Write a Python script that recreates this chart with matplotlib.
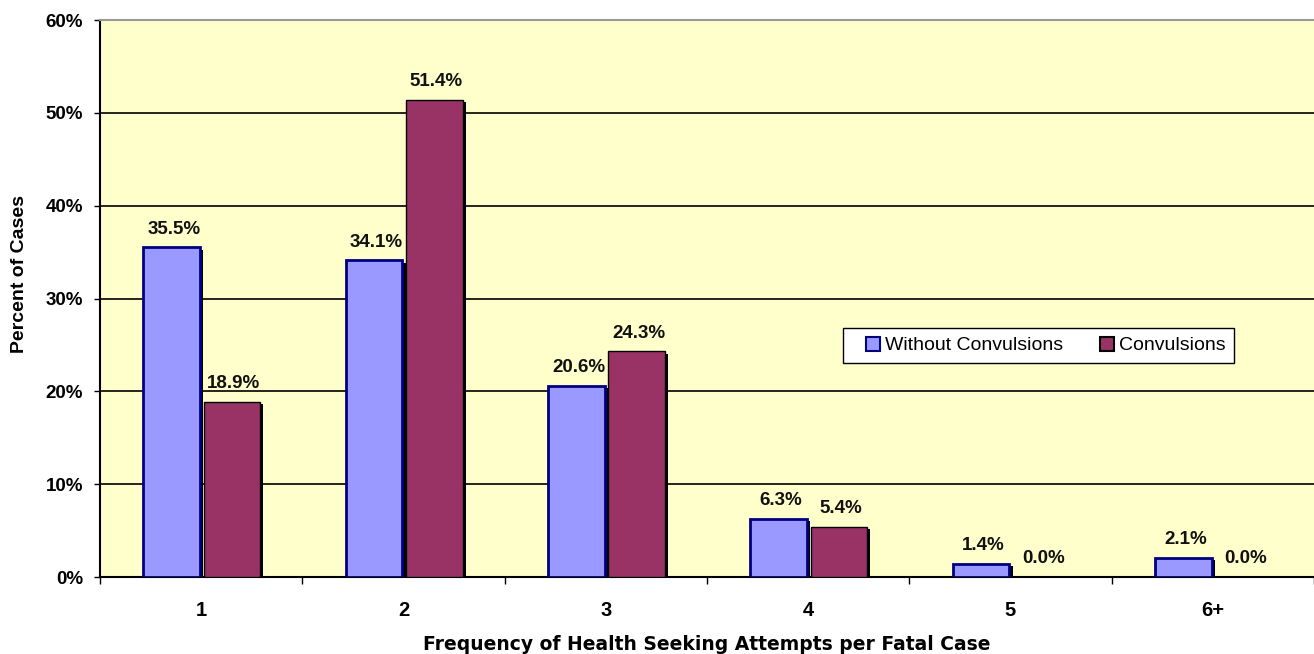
import matplotlib
matplotlib.use("Agg")
import matplotlib.pyplot as plt
import matplotlib.patheffects as pe
from matplotlib.patches import Rectangle
import numpy as np

categories = ["1", "2", "3", "4", "5", "6+"]
without_conv = [35.5, 34.1, 20.6, 6.3, 1.4, 2.1]
with_conv = [18.9, 51.4, 24.3, 5.4, 0.0, 0.0]
series_names = ["Without Convulsions", "Convulsions"]

plt.rcParams["font.family"] = ["Liberation Sans", "DejaVu Sans"]

fig = plt.figure(figsize=(13.14, 6.54), dpi=100)
ax = fig.add_axes([0.0761, 0.1177, 0.9239, 0.8517])
ax.set_facecolor("#FFFFCC")

x = np.arange(len(categories))
w = 0.28

b1 = ax.bar(x - 0.145, without_conv, w, color="#9999FF", edgecolor="#000080",
            linewidth=2, label=series_names[0], zorder=3)
b2 = ax.bar(x + 0.152, with_conv, w, color="#993366", edgecolor="black",
            linewidth=1, label=series_names[1], zorder=3)

# legend first so the handles don't pick up the bar shadow
leg = ax.legend(loc="center left", bbox_to_anchor=(0.631, 0.4155), ncol=2,
                fontsize=14, frameon=False, handlelength=0.72, handleheight=0.72,
                columnspacing=1.9, handletextpad=0.26, borderpad=0,
                borderaxespad=0)
for h in leg.legend_handles:
    h.set_linewidth(1.5)
ax.add_patch(Rectangle((0.612, 0.384), 0.322, 0.063, transform=ax.transAxes,
                       facecolor="white", edgecolor="black", linewidth=1,
                       zorder=4))
leg.set_zorder(5)

shadow = [pe.SimplePatchShadow(offset=(2.2, -1.6), shadow_rgbFace="black", alpha=1.0),
          pe.Normal()]
for bars in (b1, b2):
    for p in bars:
        if p.get_height() > 0:
            p.set_path_effects(shadow)

for bars, vals in ((b1, without_conv), (b2, with_conv)):
    for p, v in zip(bars, vals):
        ax.annotate(f"{v:.1f}%", (p.get_x() + p.get_width() / 2 + 0.01, v),
                    xytext=(0, 10), textcoords="offset points",
                    ha="center", va="baseline", fontsize=13.5, fontweight="bold",
                    color="#111111")

ax.set_xlim(-0.5, len(categories) - 0.5)
ax.set_ylim(0, 60)
ax.set_yticks(range(0, 61, 10))
ax.set_yticklabels([f"{t}%" for t in range(0, 61, 10)], fontsize=13.5,
                   fontweight="bold")
ax.yaxis.grid(True, color="black", linewidth=1.2, zorder=0)
ax.set_axisbelow(True)

ax.set_xticks(np.arange(len(categories) + 1) - 0.5)
ax.set_xticklabels([])
ax.set_xticks(x, minor=True)
ax.set_xticklabels(categories, minor=True, fontsize=14.5, fontweight="bold")
ax.tick_params(axis="x", which="major", length=5, width=1, direction="out")
ax.tick_params(axis="x", which="minor", length=0, pad=17)
ax.tick_params(axis="y", length=4, width=1, direction="out", pad=8)

for s in ("left", "bottom"):
    ax.spines[s].set_linewidth(1.5)
    ax.spines[s].set_color("black")
ax.spines["top"].set_color("#999999")
ax.spines["top"].set_linewidth(1.5)
ax.spines["right"].set_visible(False)

fig.text(0.0152, 1 - 274 / 654, "Percent of Cases", rotation=90, ha="center",
         va="center", fontsize=14, fontweight="bold")
fig.text(0.538, 3.5 / 654, "Frequency of Health Seeking Attempts per Fatal Case",
         ha="center", va="baseline", fontsize=13.5, fontweight="bold",
         family="DejaVu Sans")

fig.savefig("out.png", dpi=100, facecolor="white")
